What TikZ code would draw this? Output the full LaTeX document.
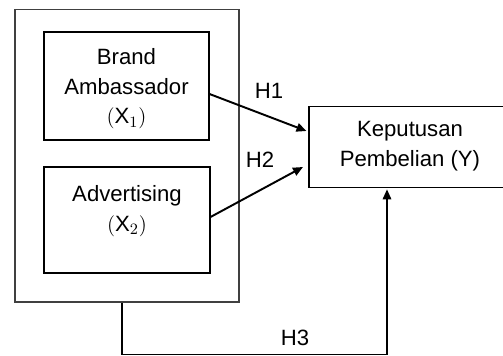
\documentclass[tikz,border=0pt]{standalone}
\usepackage{fontspec}
\setmainfont{Liberation Sans}
\usetikzlibrary{arrows.meta}

\begin{document}
\begin{tikzpicture}[
        varbox/.style={rectangle, draw, line width=0.6pt},
        hyp/.style={line width=1.1pt, -{Triangle[length=2mm, width=1.7mm]}},
        txt/.style={align=center, font=\fontsize{12.6}{16.8}\selectfont}
    ]
            \clip (0,0) rectangle (10.06,7.12);

            \node[rectangle, draw, draw=black!75, line width=0.6pt, minimum width=4.48cm, minimum height=5.85cm] (outer) at (2.54,4.005) {};

            \node[varbox, minimum width=3.3cm, minimum height=2.16cm] (x1) at (2.53,5.40) {};

            \node[varbox, minimum width=3.32cm, minimum height=2.12cm] (x2) at (2.54,2.72) {};

            % the right side runs off the page, so only three sides are drawn
            \node[rectangle, minimum width=4.8cm, minimum height=1.6cm, anchor=west] (y) at (6.18,4.18) {};
            \draw[line width=0.6pt] (y.north east) -- (y.north west) -- (y.south west) -- (y.south east);

            \node[txt] at (2.53,5.34) {
                Brand\\Ambassador\\$(\mathrm{X}_1)$
            };

            \node[txt, anchor=north] at ([yshift=-2.6mm]x2.north) {
                Advertising\\$(\mathrm{X}_2)$
            };

            \node[txt] at (8.2,4.2) {
                Keputusan\\Pembelian (Y)
            };

            % hypothesis paths
            \draw[hyp] ([yshift=-1.6mm]x1.east) -- ([xshift=-0.5mm, yshift=3.2mm]y.west);
            \node[txt] (h1) at (5.38,5.30) {H1};

            \draw[hyp] ([yshift=0.6mm]x2.east) -- ([xshift=-1.2mm, yshift=-4mm]y.west);
            \node[txt] (h2) at (5.2,3.92) {H2};

            \coordinate (base) at (0,0.03);
            \draw[hyp, line width=0.9pt] ([xshift=-1mm]outer.south) -- ([xshift=-1mm]outer.south |- base)
                -| ([yshift=-0.4mm]y.south -| 7.74,0);
            \node[txt] (h3) at (5.9,0.36) {H3};
        \end{tikzpicture}
\end{document}
